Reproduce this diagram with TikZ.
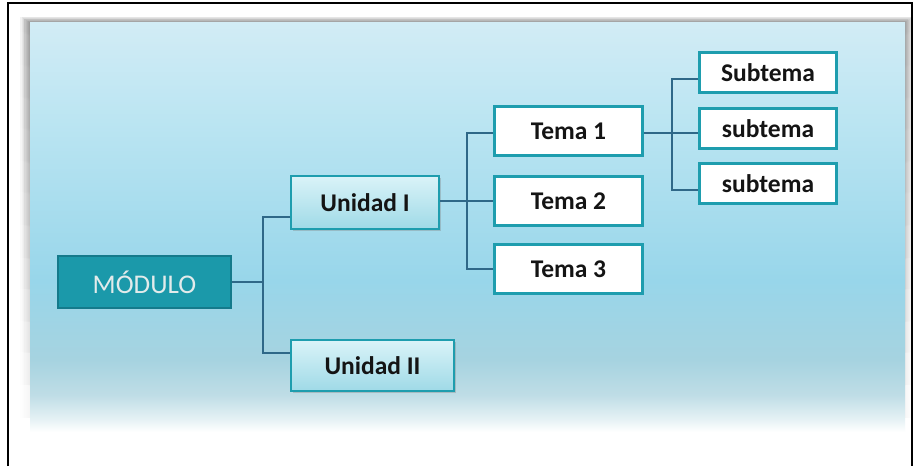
\documentclass[tikz,border=0pt]{standalone}
\usepackage{fontspec}
\setmainfont{Carlito}
\usetikzlibrary{shadows,fadings}

% palette
\definecolor{boxedge}{HTML}{1E9DAE}
\definecolor{modfill}{HTML}{1B99AA}
\definecolor{modedge}{HTML}{147A8B}
\definecolor{modtext}{HTML}{E2EBEB}
\definecolor{wire}{HTML}{2F6888}
\definecolor{uTop}{HTML}{DAF3F8}
\definecolor{uBot}{HTML}{9FDAE7}
\definecolor{p1}{HTML}{D2ECF5}
\definecolor{p2}{HTML}{BBE5F2}
\definecolor{p3}{HTML}{98D6EA}
\definecolor{p4}{HTML}{A6D3E0}
\definecolor{p5}{HTML}{BFDDE6}
\definecolor{p6}{HTML}{E6F2F5}

% background panel: light blue at the top, fading to white at the bottom
\pgfdeclareverticalshading{panelshade}{100bp}{%
  color(0bp)=(white); color(25bp)=(white); color(26.5bp)=(p6);
  color(29.5bp)=(p5); color(33.8bp)=(p4); color(43.5bp)=(p3);
  color(63bp)=(p2); color(75bp)=(p1); color(100bp)=(p1)}

\tikzfading[name=shadowfade, top color=transparent!0, bottom color=transparent!100]

\tikzset{
  wire/.style={draw=wire, line width=1.8pt},
  lbl/.style={font=\fontsize{25.5}{28}\selectfont\bfseries, text=black!92},
  rootbox/.style={draw=modedge, fill=modfill, line width=1.5pt,
    minimum width=173pt, minimum height=52pt,
    font=\fontsize{27}{30}\selectfont, text=modtext},
  unitbox/.style={lbl, draw=boxedge, line width=2pt, top color=uTop, bottom color=uBot,
    drop shadow={shadow xshift=1.5pt, shadow yshift=-2pt, opacity=0.35}},
  topicbox/.style={lbl, draw=boxedge, fill=white, line width=3pt,
    minimum width=148pt, minimum height=49pt},
  subbox/.style={lbl, draw=boxedge, fill=white, line width=3pt,
    minimum width=137pt, minimum height=40pt},
}

\begin{document}
\begin{tikzpicture}[x=1pt, y=-1pt]
  \useasboundingbox (0,0) rectangle (920,466);
  \fill[white] (0,0) rectangle (920,466);

  % outer frame
  \draw[black, line width=1.2pt] (8,466) -- (8,3) -- (912,3) -- (912,466);

  % soft shadow around the panel
  \foreach \d in {1,...,9}
    \fill[black, opacity=0.05, path fading=shadowfade]
      (30-\d,22-0.6*\d) rectangle (905+\d,432);

  % panel
  \shade[shading=panelshade] (30,22) rectangle (905,432);

  % junction points of the tree lines
  \coordinate (ja) at (263,217);
  \coordinate (jb) at (263,353);
  \coordinate (jc) at (467,133);
  \coordinate (jd) at (467,269);
  \coordinate (je) at (672,79);
  \coordinate (jf) at (672,190);

  % nodes
  \node[rootbox] (mod) at (144.5,282) {MÓDULO};
  \node[unitbox, minimum width=148pt, minimum height=53pt] (u1) at (365,202.5) {Unidad I};
  \node[unitbox, minimum width=163pt, minimum height=51pt] (u2) at (372.5,365.5) {Unidad II};

  \node[topicbox] (t1) at (568.5,131) {Tema 1};
  \node[topicbox] (t2) at (568.5,201) {Tema 2};
  \node[topicbox] (t3) at (568.5,269) {Tema 3};

  \node[subbox] (s1) at (768,72.5) {Subtema};
  \node[subbox] (s2) at (768,128.5) {subtema};
  \node[subbox] (s3) at (768,183.5) {subtema};

  % module -> units
  \draw[wire] (mod.east) -- (mod.east -| ja);
  \draw[wire] (u1.west |- ja) -- (ja) -- (jb) -- (u2.west |- jb);

  % unit I -> topics
  \draw[wire] (u1.east |- t2.west) -- (t2.west);
  \draw[wire] (t1.west |- jc) -- (jc) -- (jd) -- (t3.west |- jd);

  % topic 1 -> subtopics
  \draw[wire] (t1.east |- jc) -- (s2.west |- jc);
  \draw[wire] (s1.west |- je) -- (je) -- (jf) -- (s3.west |- jf);
\end{tikzpicture}
\end{document}
